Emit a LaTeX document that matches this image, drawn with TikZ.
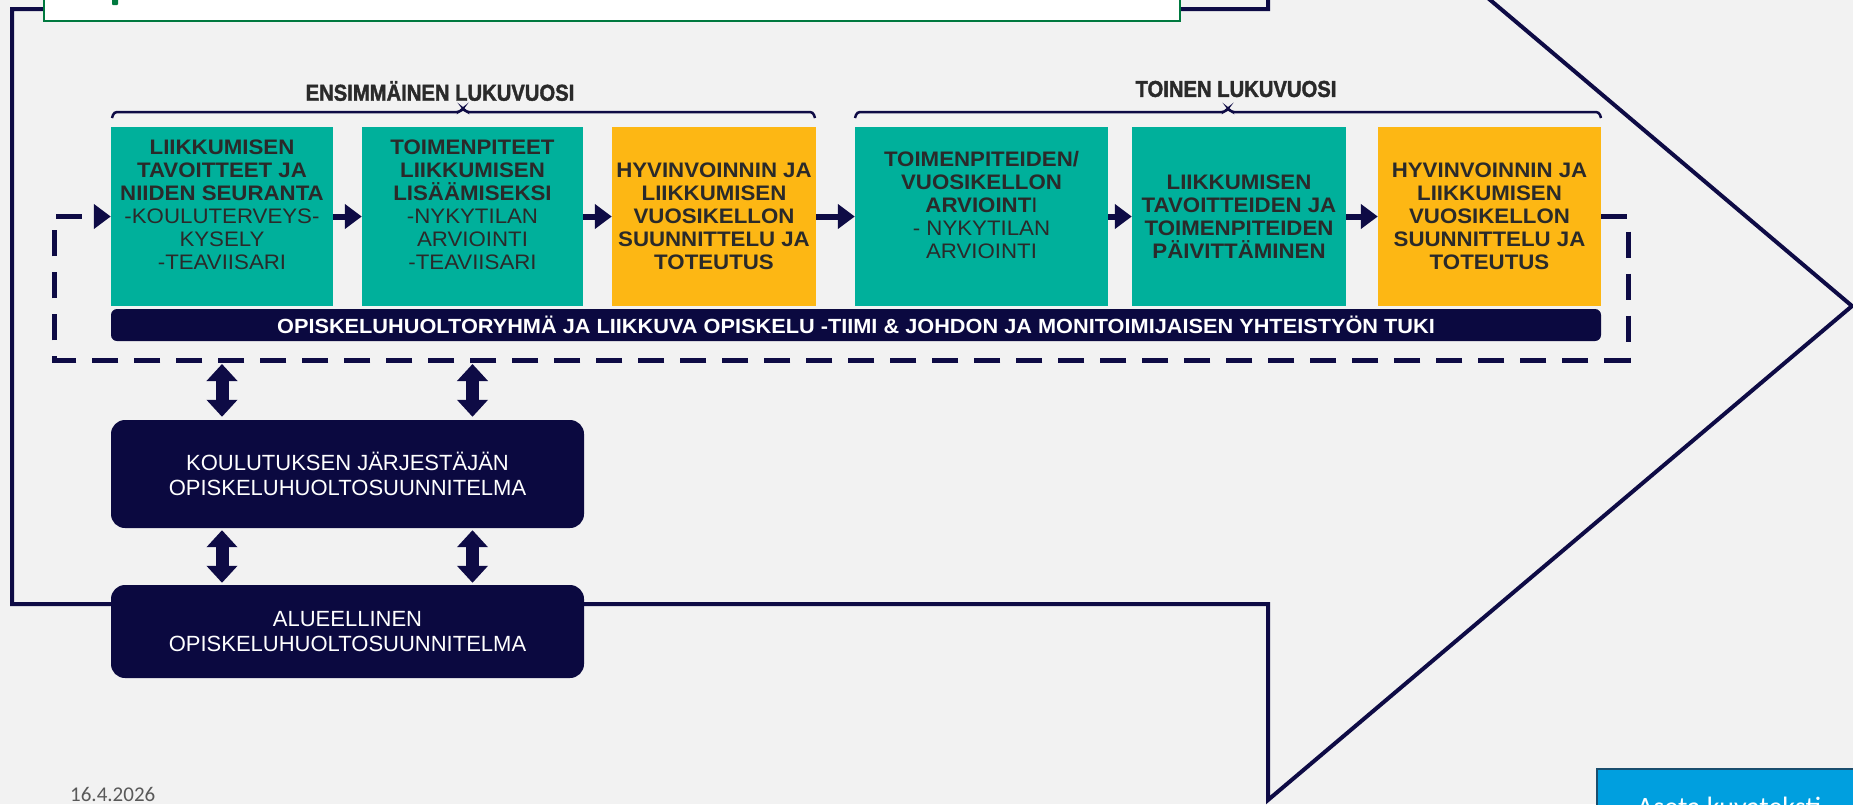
\documentclass[tikz,border=0pt]{standalone}
\usepackage{fontspec}
\setmainfont{Liberation Sans}
\newfontfamily\stagefont{Liberation Sans}[FakeStretch=1.06]
\newfontfamily\narrowfont{Liberation Sans Bold}[FakeStretch=0.88, FakeBold=1.6]
\newfontfamily\footfont{Carlito}
\usetikzlibrary{arrows.meta}

\definecolor{navy}{HTML}{0E0B45}
\definecolor{bandnavy}{HTML}{0B0940}
\definecolor{stageteal}{HTML}{00B09B}
\definecolor{stageyellow}{HTML}{FDB714}
\definecolor{textgray}{HTML}{2A2A2A}
\definecolor{dategray}{HTML}{595959}
\definecolor{slidegray}{HTML}{F2F2F2}
\definecolor{titlegreen}{HTML}{00793F}
\definecolor{footblue}{HTML}{009FDF}
\definecolor{footborder}{HTML}{1A4E6E}

\tikzset{
  stage/.style={rectangle, minimum height=179pt, inner sep=0pt, align=center,
    text=textgray, font=\stagefont\fontsize{21}{23}\selectfont},
  teal stage/.style={stage, fill=stageteal},
  yellow stage/.style={stage, fill=stageyellow},
  flow/.style={navy, line width=6pt, -{Triangle[length=17pt,width=24pt]}},
  loopline/.style={navy, line width=5pt, dash pattern=on 26pt off 16pt},
  plan/.style={rectangle, rounded corners=14pt, fill=bandnavy, text=white,
    minimum width=473pt, align=center, font=\fontsize{22}{25}\selectfont},
  twoway/.style={navy, line width=13pt,
    {Triangle[length=17pt,width=30pt]}-{Triangle[length=17pt,width=30pt]}},
  yearhead/.style={font=\narrowfont\fontsize{23}{26}\selectfont, text=textgray},
  yearbrace/.style={navy, line width=2.5pt, rounded corners=3pt},
}

\begin{document}
\begin{tikzpicture}[x=1pt,y=-1pt]
  \path[use as bounding box] (0,0) rectangle (1853,804);
  \clip (0,0) rectangle (1853,804);
  \fill[slidegray] (0,0) rectangle (1853,804);

%% big arrow outline
  \draw[navy, line width=4pt] (12,9) -- (1268,9) -- (1268,-188) -- (1852,306)
    -- (1268,800) -- (1268,604) -- (12,604) -- cycle;

%% title box
  \node[draw=titlegreen, line width=2.5pt, fill=white, minimum width=1136pt,
    minimum height=40pt, inner sep=0pt] (title) at (612,1) {};
  \fill[titlegreen, rounded corners=1pt] (112,-2) rectangle (118,5);

%% year headers
  \node[yearhead] (year1) at (440,91) {ENSIMMÄINEN LUKUVUOSI};
  \node[yearhead] (year2) at (1236,89) {TOINEN LUKUVUOSI};
  \draw[yearbrace] (112,118) -- (114,112) -- (460,112) -- (463,108) -- (466,112) -- (813,112) -- (815,118);
  \draw[yearbrace] (855,118) -- (857,112) -- (1225,112) -- (1228,108) -- (1231,112) -- (1599,112) -- (1601,118);

%% stages
  \node[teal stage, minimum width=222pt, text depth=24pt] (goals) at (222,216.5)
    {\textbf{LIIKKUMISEN}\\\textbf{TAVOITTEET JA}\\\textbf{NIIDEN SEURANTA}\\-KOULUTERVEYS-\\KYSELY\\-TEAVIISARI};
  \node[teal stage, minimum width=221pt, text depth=24pt] (actions) at (472.5,216.5)
    {\textbf{TOIMENPITEET}\\\textbf{LIIKKUMISEN}\\\textbf{LISÄÄMISEKSI}\\-NYKYTILAN\\ARVIOINTI\\-TEAVIISARI};
  \node[yellow stage, minimum width=204pt] (wheel1) at (714,216.5)
    {\textbf{HYVINVOINNIN JA}\\\textbf{LIIKKUMISEN}\\\textbf{VUOSIKELLON}\\\textbf{SUUNNITTELU JA}\\\textbf{TOTEUTUS}};
  \node[teal stage, minimum width=253pt, text depth=24pt] (review) at (981.5,216.5)
    {\textbf{TOIMENPITEIDEN/}\\\textbf{VUOSIKELLON}\\\textbf{ARVIOINT}I\\- NYKYTILAN\\ARVIOINTI};
  \node[teal stage, minimum width=214pt] (update) at (1239,216.5)
    {\textbf{LIIKKUMISEN}\\\textbf{TAVOITTEIDEN JA}\\\textbf{TOIMENPITEIDEN}\\\textbf{PÄIVITTÄMINEN}};
  \node[yellow stage, minimum width=223pt] (wheel2) at (1489.5,216.5)
    {\textbf{HYVINVOINNIN JA}\\\textbf{LIIKKUMISEN}\\\textbf{VUOSIKELLON}\\\textbf{SUUNNITTELU JA}\\\textbf{TOTEUTUS}};

%% support band
  \node[fill=bandnavy, rounded corners=6pt, minimum width=1490pt, minimum height=32pt,
    inner sep=0pt, text=white, font=\stagefont\bfseries\fontsize{20.5}{22}\selectfont] (team) at (856,325)
    {OPISKELUHUOLTORYHMÄ JA LIIKKUVA OPISKELU -TIIMI \& JOHDON JA MONITOIMIJAISEN YHTEISTYÖN TUKI};

%% flow between stages
  \foreach \a/\b in {goals/actions, actions/wheel1, wheel1/review, review/update, update/wheel2}
    \draw[flow] (\a.east) -- (\b.west);

%% dashed loop back to the start
  \coordinate (loopR) at (1628,360);
  \coordinate (loopL) at (54,360);
  \draw[loopline, -{Triangle[length=17pt,width=24pt]}] (wheel2.east) -| (loopR) -- (loopL) |- (goals.west);

%% plans
  \node[plan, minimum height=108pt] (local) at (347.5,474) {KOULUTUKSEN JÄRJESTÄJÄN\\OPISKELUHUOLTOSUUNNITELMA};
  \node[plan, minimum height=93pt] (region) at (347.5,631.5) {ALUEELLINEN\\OPISKELUHUOLTOSUUNNITELMA};
  \foreach \s in {goals, actions} {
    \draw[twoway, shorten <=4pt, shorten >=3pt] (\s |- loopL) -- (\s |- local.north);
    \draw[twoway, shorten <=2pt, shorten >=2pt] (\s |- local.south) -- (\s |- region.north);
  }

%% footer
  \node[anchor=base west, font=\footfont\fontsize{21}{24}\selectfont, text=dategray, inner sep=0pt] (date) at (70,801) {16.4.2026};
  \node[draw=footborder, line width=2pt, fill=footblue, minimum width=290pt, minimum height=60pt,
    anchor=north west, inner sep=0pt] (caption) at (1596,768) {};
  \node[anchor=base west, font=\footfont\fontsize{28}{30}\selectfont, text=white, inner sep=0pt] (caption-text) at (1637,816) {Aseta kuvateksti};
\end{tikzpicture}
\end{document}
